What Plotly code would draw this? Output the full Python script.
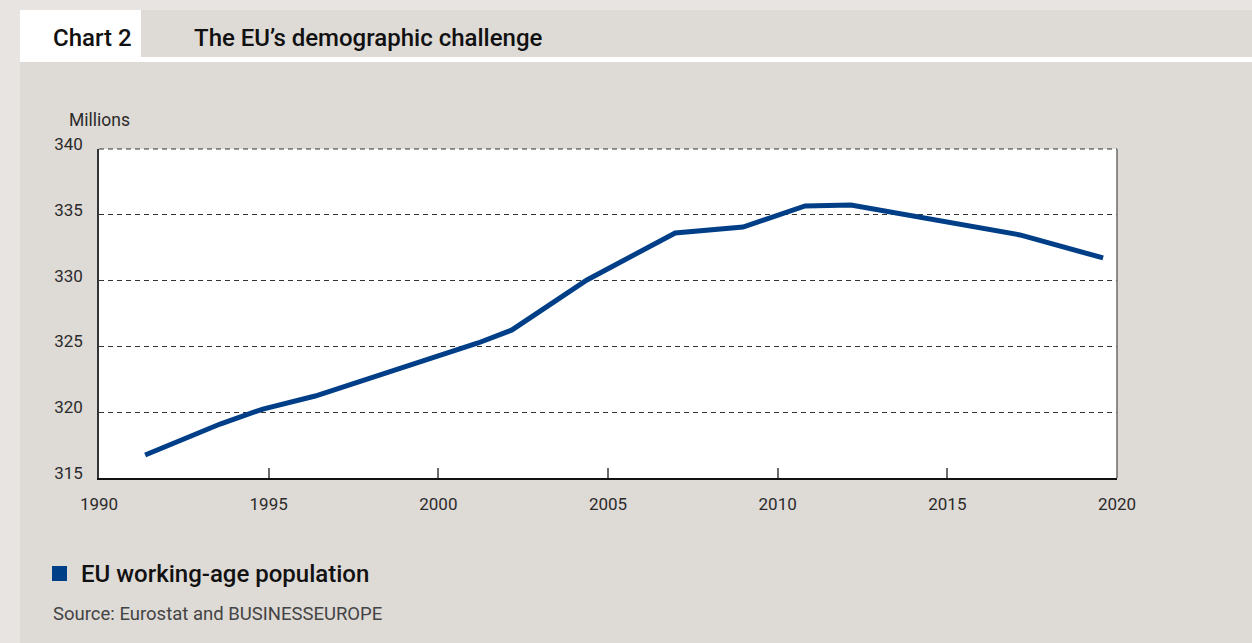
import plotly.graph_objects as go

# ---- data ----
years = [1991.36, 1993.57, 1994.83, 1996.37, 2001.17, 2002.17, 2004.38,
         2006.98, 2008.98, 2010.81, 2012.16, 2017.14, 2019.59]
population = [316.75, 319.10, 320.24, 321.23, 325.26, 326.25, 330.05,
              333.62, 334.07, 335.67, 335.74, 333.47, 331.72]
x_ticks = [1990, 1995, 2000, 2005, 2010, 2015, 2020]
y_ticks = [315, 320, 325, 330, 335, 340]
series_name = "EU working-age population"
chart_label = "Chart 2"
chart_title = "The EU\u2019s demographic challenge"
unit_label = "Millions"
source_text = "Source: Eurostat and BUSINESSEUROPE"

# ---- layout geometry (pixels) ----
W, H = 1252, 643
L, R, T, B = 99, 1117, 149, 478
PW, PH = R - L, B - T


def px(x):
    return (x - L) / PW


def py(y):
    return (B - y) / PH


FONT = "Roboto"
BLUE = "#003f87"
PANEL = "#dedad6"
OUTER = "#e8e4e1"
TEXT = "#2b2b2b"

fig = go.Figure()
fig.add_trace(go.Scatter(
    x=years, y=population, mode="lines", name=series_name,
    line=dict(color=BLUE, width=5), showlegend=False, hoverinfo="skip"))

shapes = [
    # outer lighter strips
    dict(type="rect", xref="paper", yref="paper", x0=px(0), x1=px(W), y0=py(0), y1=py(10),
         fillcolor=OUTER, line_width=0, layer="below"),
    dict(type="rect", xref="paper", yref="paper", x0=px(0), x1=px(20), y0=py(0), y1=py(H),
         fillcolor=OUTER, line_width=0, layer="below"),
    # white strip under header
    dict(type="rect", xref="paper", yref="paper", x0=px(20), x1=px(W), y0=py(57), y1=py(62),
         fillcolor="white", line_width=0, layer="below"),
    # white chart-label box
    dict(type="rect", xref="paper", yref="paper", x0=px(20), x1=px(141), y0=py(10), y1=py(62),
         fillcolor="white", line_width=0, layer="below"),
    # top dashed gridline (range edge)
    dict(type="line", xref="paper", yref="paper", x0=0, x1=1, y0=1, y1=1,
         line=dict(color="#333", width=1, dash="5px,4px")),
    # right border of plot
    dict(type="line", xref="paper", yref="paper", x0=1, x1=1, y0=0, y1=1,
         line=dict(color="#6b6b6b", width=1.5)),
    # legend square
    dict(type="rect", xref="paper", yref="paper", x0=px(52), x1=px(67), y0=py(566), y1=py(581),
         fillcolor=BLUE, line_width=0),
]

annotations = [
    dict(text=chart_label, x=px(51), y=py(38), xref="paper", yref="paper",
         xanchor="left", yanchor="middle", showarrow=False,
         font=dict(family=FONT, size=24, color="#111", weight=500)),
    dict(text=chart_title, x=px(192), y=py(38), xref="paper", yref="paper",
         xanchor="left", yanchor="middle", showarrow=False,
         font=dict(family=FONT, size=24, color="#111", weight=500)),
    dict(text=unit_label, x=px(67), y=py(120), xref="paper", yref="paper",
         xanchor="left", yanchor="middle", showarrow=False,
         font=dict(family=FONT, size=17.5, color=TEXT)),
    dict(text=series_name, x=px(79), y=py(574), xref="paper", yref="paper",
         xanchor="left", yanchor="middle", showarrow=False,
         font=dict(family=FONT, size=24, color="#111", weight=500)),
    dict(text=source_text, x=px(51), y=py(614), xref="paper", yref="paper",
         xanchor="left", yanchor="middle", showarrow=False,
         font=dict(family=FONT, size=18.5, color="#444")),
]

fig.update_layout(
    width=W, height=H,
    margin=dict(l=L, r=W - R, t=T, b=H - B, pad=0),
    paper_bgcolor=PANEL, plot_bgcolor="white",
    font=dict(family=FONT, size=17, color=TEXT),
    shapes=shapes, annotations=annotations, showlegend=False,
    xaxis=dict(range=[1990, 2020], tickvals=x_ticks, ticktext=[str(v) for v in x_ticks],
               showgrid=False, zeroline=False, showline=True, linecolor="#111", linewidth=2,
               ticks="inside", ticklen=10, tickwidth=1.5, tickcolor="#6b6b6b",
               ticklabelstandoff=10, tickfont=dict(family=FONT, size=17, color=TEXT)),
    yaxis=dict(range=[315, 340], tickvals=y_ticks, ticktext=[str(v) for v in y_ticks],
               showgrid=True, gridcolor="#333", gridwidth=1, griddash="5px,4px",
               zeroline=False, showline=True, linecolor="#333", linewidth=1.5,
               ticks="", ticklabelstandoff=11, ticklabelshift=-5,
               tickfont=dict(family=FONT, size=17, color=TEXT)),
)

fig.write_html("out.html", config={"displayModeBar": False},
               post_script="document.body.style.margin='0';")
